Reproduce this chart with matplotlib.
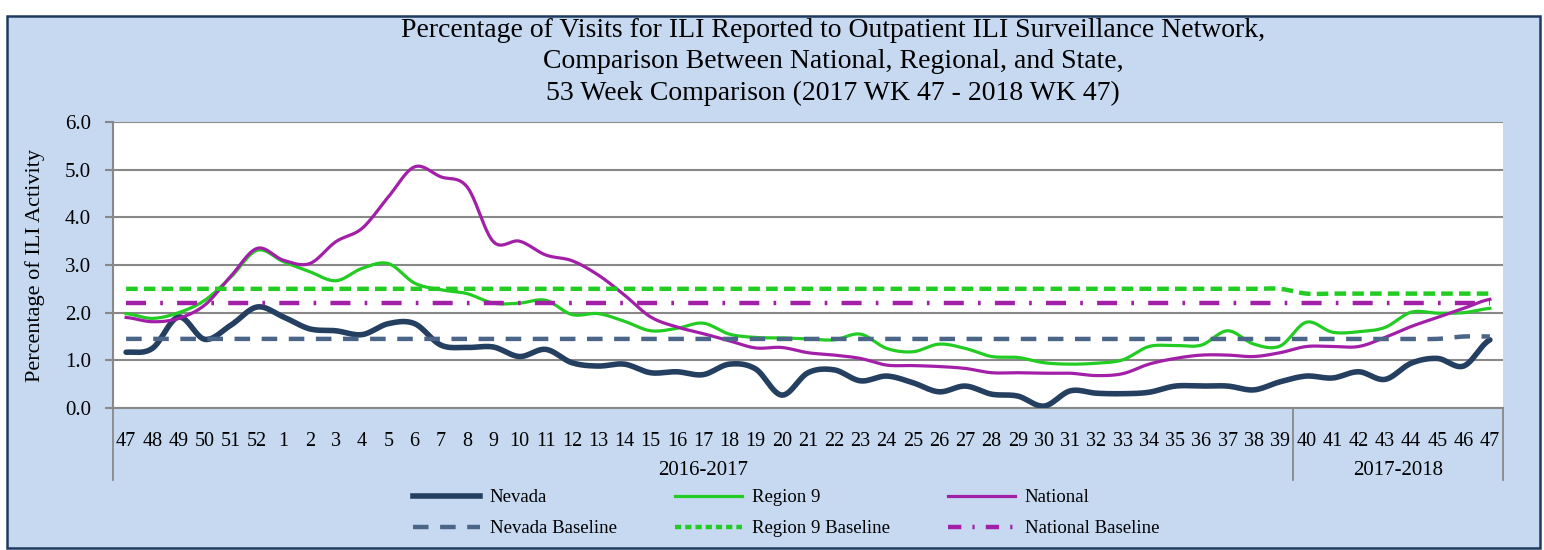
import matplotlib.pyplot as plt
import numpy as np
from matplotlib.patches import Rectangle
from matplotlib.lines import Line2D
import matplotlib.transforms as mtransforms

plt.rcParams['font.family'] = ['Liberation Serif', 'DejaVu Serif']

weeks = ['47', '48', '49', '50', '51', '52'] + [str(w) for w in range(1, 48)]
season_labels = ['2016-2017', '2017-2018']
season_sizes = [45, 8]

nevada = [1.17, 1.25, 1.91, 1.44, 1.74, 2.12, 1.91, 1.66, 1.62, 1.54,
          1.77, 1.77, 1.32, 1.27, 1.28, 1.08, 1.23, 0.95, 0.88, 0.92,
          0.74, 0.76, 0.70, 0.92, 0.82, 0.27, 0.74, 0.80, 0.57, 0.67,
          0.53, 0.34, 0.46, 0.29, 0.25, 0.04, 0.36, 0.31, 0.30, 0.33,
          0.46, 0.46, 0.46, 0.38, 0.55, 0.67, 0.63, 0.76, 0.60, 0.94,
          1.04, 0.88, 1.43]
region9 = [1.98, 1.88, 2.00, 2.26, 2.75, 3.31, 3.07, 2.86, 2.67, 2.93,
           3.03, 2.62, 2.48, 2.40, 2.20, 2.20, 2.26, 1.96, 1.98, 1.82,
           1.62, 1.67, 1.78, 1.55, 1.48, 1.47, 1.45, 1.43, 1.55, 1.25,
           1.18, 1.34, 1.25, 1.08, 1.06, 0.95, 0.92, 0.94, 1.01, 1.29,
           1.31, 1.32, 1.62, 1.34, 1.30, 1.80, 1.59, 1.60, 1.69, 2.01,
           1.99, 2.00, 2.09]
national = [1.90, 1.81, 1.88, 2.16, 2.77, 3.35, 3.10, 3.03, 3.49, 3.77,
            4.43, 5.06, 4.85, 4.64, 3.49, 3.50, 3.21, 3.09, 2.79, 2.37,
            1.91, 1.70, 1.56, 1.41, 1.26, 1.27, 1.16, 1.11, 1.04, 0.90,
            0.89, 0.87, 0.83, 0.74, 0.74, 0.73, 0.73, 0.68, 0.72, 0.92,
            1.04, 1.11, 1.11, 1.08, 1.16, 1.29, 1.29, 1.29, 1.48, 1.71,
            1.90, 2.09, 2.28]
nevada_base = [1.45] * 51 + [1.5] * 2
region9_base = [2.5] * 45 + [2.4] * 8
national_base = [2.2] * 53


def smooth(y, n=12):
    # Catmull-Rom curve through the weekly points (like Excel's smoothed line)
    y = np.asarray(y, float)
    p = np.concatenate([[y[0]], y, [y[-1]]])
    xs, ys = [], []
    t = np.linspace(0, 1, n, endpoint=False)
    for i in range(len(y) - 1):
        p0, p1, p2, p3 = p[i], p[i + 1], p[i + 2], p[i + 3]
        yy = 0.5 * (2 * p1 + (-p0 + p2) * t + (2 * p0 - 5 * p1 + 4 * p2 - p3) * t ** 2
                    + (-p0 + 3 * p1 - 3 * p2 + p3) * t ** 3)
        xs.extend(i + t)
        ys.extend(yy)
    xs.append(len(y) - 1)
    ys.append(y[-1])
    return np.array(xs), np.array(ys)


fig = plt.figure(figsize=(15.44, 5.5), dpi=100)
fig.patch.set_facecolor('white')
fig.patches.append(Rectangle((7 / 1544, 2 / 550), 1533 / 1544, 532 / 550,
                             transform=fig.transFigure, facecolor='#C6D9F1',
                             edgecolor='#1F3A5F', linewidth=1.8, zorder=-10))

ax = fig.add_axes([113 / 1544, 1 - 408 / 550, 1390 / 1544, 286 / 550])
ax.set_facecolor('white')
x = np.arange(len(weeks))

c_nev, c_nevb = '#243F60', '#4A6588'
c_r9 = '#22CC22'
c_nat = '#A21FA8'

ax.plot(*smooth(nevada), color=c_nev, lw=4.0, solid_capstyle='round', zorder=3)
ax.plot(*smooth(region9), color=c_r9, lw=2.3, zorder=4)
ax.plot(*smooth(national), color=c_nat, lw=2.3, zorder=5)
ax.plot(*smooth(nevada_base), color=c_nevb, lw=3.2, dashes=(3.5, 2.6), zorder=6)
ax.plot(*smooth(region9_base), color=c_r9, lw=3.2, dashes=(2.6, 1.4), zorder=6)
ax.plot(*smooth(national_base), color=c_nat, lw=3.2, dashes=(4.5, 3.2, 0.6, 3.2), zorder=6)

ax.set_xlim(-0.5, len(weeks) - 0.5)
ax.set_ylim(0, 6)
ax.set_yticks(np.arange(0, 6.1, 1))
ax.set_yticklabels([f'{v:.1f}' for v in np.arange(0, 6.1, 1)], fontsize=15)
ax.yaxis.grid(True, color='#888888', lw=1.5)
ax.set_axisbelow(True)
ax.tick_params(axis='y', length=6, width=1.5, color='#888888', pad=10)
ax.set_xticks(x)
ax.set_xticklabels(weeks, fontsize=14.5)
ax.tick_params(axis='x', length=0, pad=17)
for s in ['top', 'right']:
    ax.spines[s].set_visible(False)
for s in ['left', 'bottom']:
    ax.spines[s].set_color('#888888')
    ax.spines[s].set_linewidth(1.5)
ax.set_ylabel('Percentage of ILI Activity', fontsize=16, labelpad=14)

# season grouping below the week labels
trans = mtransforms.blended_transform_factory(ax.transData, ax.transAxes)
edges = np.concatenate([[0], np.cumsum(season_sizes)]) - 0.5
for e in edges:
    ax.plot([e, e], [0, -0.252], color='#888888', lw=1.3, transform=trans, clip_on=False)
for lab, a, b in zip(season_labels, edges[:-1], edges[1:]):
    ax.text((a + b) / 2, -0.218, lab, transform=trans, ha='center', va='center', fontsize=15)

fig.text(0.5395, 0.967, 'Percentage of Visits for ILI Reported to Outpatient ILI Surveillance Network,\n'
         'Comparison Between National, Regional, and State,\n'
         '53 Week Comparison (2017 WK 47 - 2018 WK 47)',
         ha='center', va='top', fontsize=20, linespacing=1.33)

handles = [Line2D([], [], color=c_nev, lw=4.0),
           Line2D([], [], color=c_nevb, lw=3.2, dashes=(3.5, 2.6)),
           Line2D([], [], color=c_r9, lw=2.3),
           Line2D([], [], color=c_r9, lw=3.2, dashes=(1.4, 0.9)),
           Line2D([], [], color=c_nat, lw=2.3),
           Line2D([], [], color=c_nat, lw=3.2, dashes=(3, 2.5, 0.5, 2.5))]
labels = ['Nevada', 'Nevada Baseline', 'Region 9', 'Region 9 Baseline',
          'National', 'National Baseline']
fig.legend(handles, labels, ncol=3, loc='center', bbox_to_anchor=(0.509, 0.067),
           frameon=False, fontsize=13.5, handlelength=3.6, columnspacing=3.1,
           labelspacing=0.75, handletextpad=0.5)

fig.savefig('out.png', dpi=100)
